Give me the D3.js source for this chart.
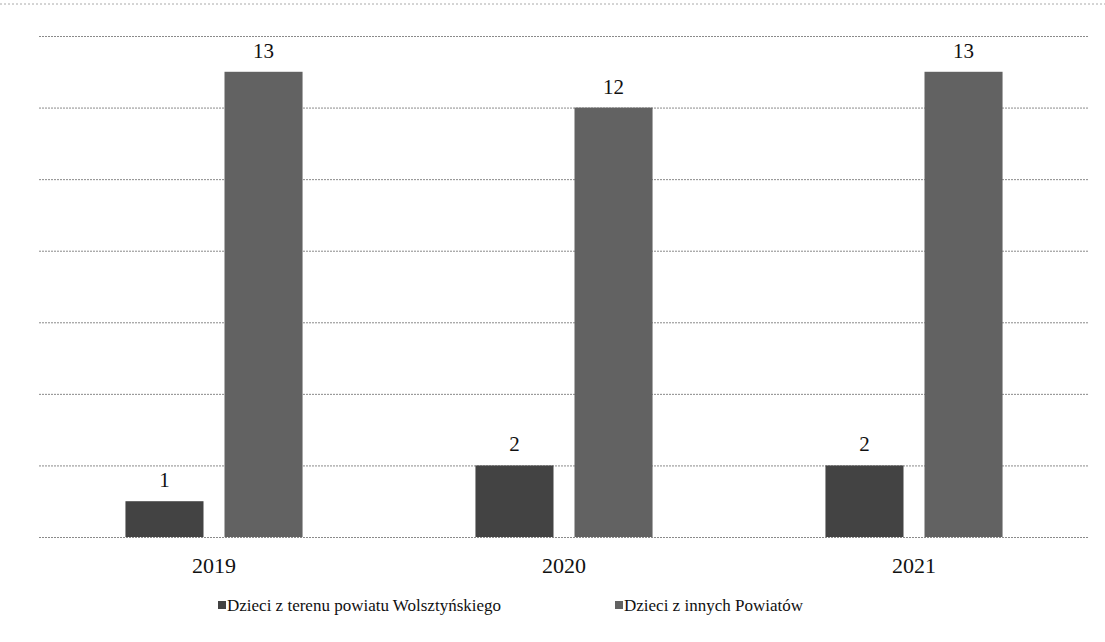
<!DOCTYPE html>
<html>
<head>
<meta charset="utf-8">
<script src="https://cdn.jsdelivr.net/npm/d3@7"></script>
<style>
body { margin:0; background:#fff; }
text { font-family:"Liberation Serif", "DejaVu Serif", serif; fill:#111; }
</style>
</head>
<body>
<svg id="chart" width="1105" height="642"></svg>
<script>
// dane z wykresu
var years = ["2019", "2020", "2021"];
var series = ["Dzieci z terenu powiatu Wolsztyńskiego", "Dzieci z innych Powiatów"];
var local_values = [1, 2, 2];
var other_values = [13, 12, 13];
var y_ticks = [0, 2, 4, 6, 8, 10, 12, 14];

var colors = ["#434343", "#626262"];

var svg = d3.select("#chart");

var y = d3.scaleLinear().domain([0, 14]).range([537, 36]);

var x0 = d3.scaleBand().domain(years).range([39, 1089])
    .paddingInner(0.494).paddingOuter(0.247);

var x1 = d3.scaleBand().domain(series).range([0, x0.bandwidth()])
    .paddingInner(0.212);

// ramka u góry (ze skanu)
svg.append("line")
    .attr("x1", 0).attr("x2", 1105)
    .attr("y1", 4).attr("y2", 4)
    .attr("stroke", "#aaa")
    .attr("stroke-dasharray", "2,2");

// linie siatki
var grid = svg.append("g")
    .attr("transform", "translate(39,0)")
    .call(d3.axisLeft(y).tickValues(y_ticks).tickSize(-1050).tickFormat(""));
grid.select(".domain").remove();
grid.selectAll("line")
    .attr("stroke", "#8a8a8a")
    .attr("stroke-dasharray", "2,1");

var rows = years.map(function(yr, i) {
    return {year: yr, values: [local_values[i], other_values[i]]};
});

var groups = svg.selectAll(".grp")
    .data(rows).enter().append("g")
    .attr("class", "grp")
    .attr("transform", function(d) { return "translate(" + x0(d.year) + ",0)"; });

groups.selectAll("rect")
    .data(function(d) { return d.values.map(function(v, j) { return {s: series[j], v: v, j: j}; }); })
    .enter().append("rect")
    .attr("x", function(d) { return x1(d.s); })
    .attr("y", function(d) { return y(d.v); })
    .attr("width", x1.bandwidth())
    .attr("height", function(d) { return y(0) - y(d.v); })
    .attr("fill", function(d) { return colors[d.j]; });

groups.selectAll("text.val")
    .data(function(d) { return d.values.map(function(v, j) { return {s: series[j], v: v}; }); })
    .enter().append("text")
    .attr("class", "val")
    .attr("x", function(d) { return x1(d.s) + x1.bandwidth() / 2; })
    .attr("y", function(d) { return y(d.v) - 14; })
    .attr("text-anchor", "middle")
    .style("font-size", "21px")
    .text(function(d) { return d.v; });

// etykiety lat
var xaxis = svg.append("g")
    .attr("transform", "translate(0,537)")
    .call(d3.axisBottom(x0).tickSize(0).tickPadding(20));
xaxis.select(".domain").remove();
xaxis.selectAll("text")
    .style("font-size", "22px")
    .style("font-family", "Liberation Serif")
    .attr("fill", "#111");

// legenda
var legend_x = [218, 615];
var legend = svg.selectAll(".leg")
    .data(series).enter().append("g")
    .attr("class", "leg")
    .attr("transform", function(d, i) { return "translate(" + legend_x[i] + ",605)"; });
legend.append("rect")
    .attr("x", 0).attr("y", -4)
    .attr("width", 8).attr("height", 8)
    .attr("fill", function(d, i) { return colors[i]; });
legend.append("text")
    .attr("x", 9).attr("y", 6)
    .style("font-family", "Liberation Serif")
    .style("font-size", "17px")
    .text(function(d) { return d; });
</script>
</body>
</html>
